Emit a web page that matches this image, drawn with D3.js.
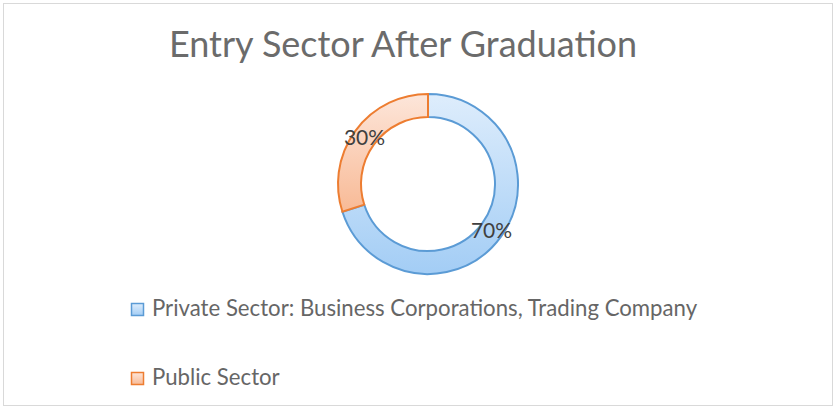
<!DOCTYPE html>
<html lang="en">
<head>
<meta charset="utf-8">
<title>Entry Sector After Graduation</title>
<script src="https://cdn.jsdelivr.net/npm/d3@7"></script>
<style>
  body { margin: 0; background: #fff; }
</style>
</head>
<body>
<div id="chart"></div>
<script>
// data
var categories = ["Private Sector: Business Corporations, Trading Company", "Public Sector"];
var values = [70, 30];
var labels = ["70%", "30%"];

var w = 834, h = 408;
var cx = 428, cy = 184;
var outerR = 90, innerR = 67;

var fills = [
  { top: "#deedfc", bottom: "#a3cdf5", stroke: "#5b9bd5" },
  { top: "#fde6da", bottom: "#f8ba96", stroke: "#ed7d31" }
];

var svg = d3.select("#chart").append("svg")
  .attr("width", w)
  .attr("height", h);

// gradients
var defs = svg.append("defs");
fills.forEach(function(f, i) {
  var g = defs.append("linearGradient")
    .attr("id", "grad" + i)
    .attr("x1", 0).attr("y1", 0).attr("x2", 0).attr("y2", 1);
  g.append("stop").attr("offset", "0%").attr("stop-color", f.top);
  g.append("stop").attr("offset", "100%").attr("stop-color", f.bottom);
});

// chart frame
svg.append("rect")
  .attr("x", 3.5).attr("y", 3.5)
  .attr("width", 829).attr("height", 402)
  .attr("fill", "#fff")
  .attr("stroke", "#d9d9d9")
  .attr("stroke-width", 1);

// title
svg.append("text")
  .attr("x", 403)
  .attr("y", 57)
  .attr("text-anchor", "middle")
  .attr("font-family", "Lato, 'Open Sans', sans-serif")
  .attr("font-size", "36px")
  .attr("fill", "#6b6b6b")
  .text("Entry Sector After Graduation");

var pie = d3.pie().sort(null).value(function(d) { return d; });
var arc = d3.arc().innerRadius(innerR).outerRadius(outerR);
var arcs = pie(values);

var g = svg.append("g").attr("transform", "translate(" + cx + "," + cy + ")");

g.selectAll("path")
  .data(arcs)
  .enter()
  .append("path")
  .attr("d", arc)
  .attr("fill", function(d, i) { return "url(#grad" + i + ")"; })
  .attr("stroke", function(d, i) { return fills[i].stroke; })
  .attr("stroke-width", 2)
  .attr("stroke-linejoin", "miter");

g.selectAll("text")
  .data(arcs)
  .enter()
  .append("text")
  .attr("transform", function(d) { return "translate(" + arc.centroid(d) + ")"; })
  .attr("dy", "0.35em")
  .attr("text-anchor", "middle")
  .attr("font-family", "Lato, 'Open Sans', sans-serif")
  .attr("font-size", "21px")
  .attr("fill", "#404040")
  .text(function(d, i) { return labels[i]; });

// legend
var legend = svg.selectAll(".legend")
  .data(categories)
  .enter()
  .append("g")
  .attr("class", "legend")
  .attr("transform", function(d, i) { return "translate(131," + (303 + i * 69) + ")"; });

legend.append("rect")
  .attr("x", 0.5).attr("y", 0.5)
  .attr("width", 12).attr("height", 12)
  .attr("fill", function(d, i) { return "url(#grad" + i + ")"; })
  .attr("stroke", function(d, i) { return fills[i].stroke; })
  .attr("stroke-width", 1.5);

legend.append("text")
  .attr("x", 21)
  .attr("y", 13)
  .attr("font-family", "Lato, 'Open Sans', sans-serif")
  .attr("font-size", "22.2px")
  .attr("fill", "#666666")
  .text(function(d) { return d; });
</script>
</body>
</html>
